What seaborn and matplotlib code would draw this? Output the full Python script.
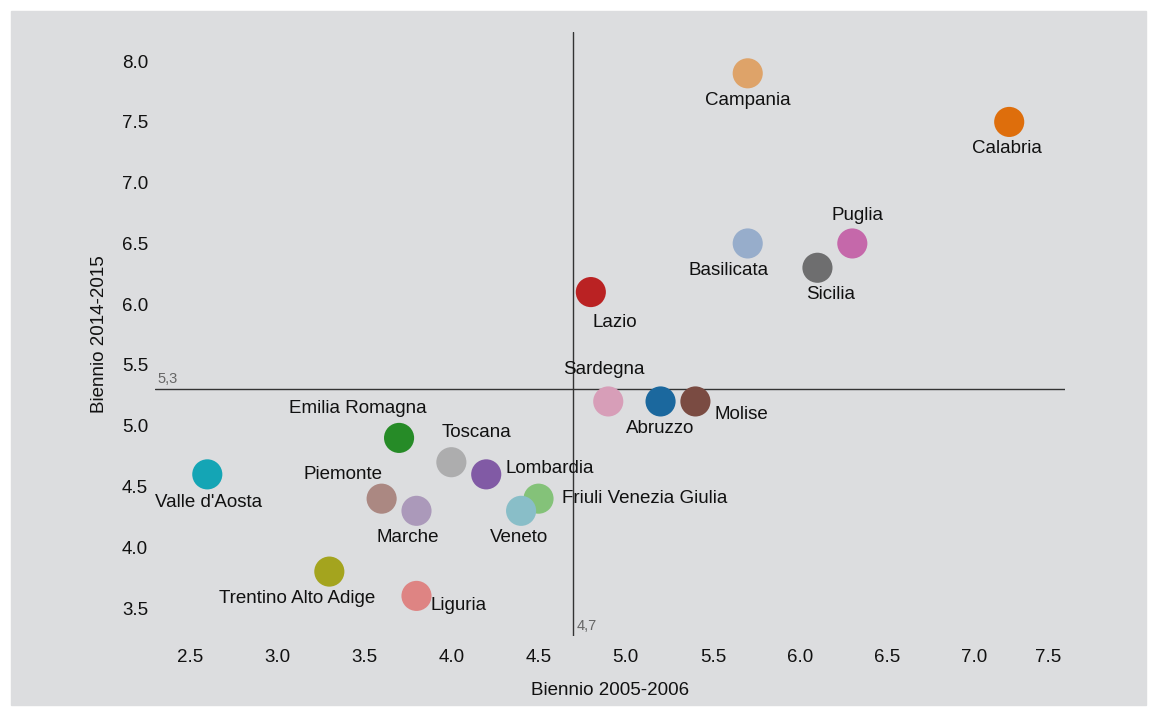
import seaborn as sns
import pandas as pd
import matplotlib.pyplot as plt
from matplotlib.patches import Rectangle

# dati
regioni = ['Abruzzo', 'Basilicata', 'Calabria', 'Campania', 'Emilia Romagna',
           'Friuli Venezia Giulia', 'Lazio', 'Liguria', 'Lombardia', 'Marche',
           'Molise', 'Piemonte', 'Puglia', 'Sardegna', 'Sicilia', 'Toscana',
           'Trentino Alto Adige', 'Umbria', "Valle d'Aosta", 'Veneto']
biennio_2005 = [5.2, 5.7, 7.2, 5.7, 3.7, 4.5, 4.8, 3.8, 4.2, 3.8,
                5.4, 3.6, 6.3, 4.9, 6.1, 4.0, 3.3, None, 2.6, 4.4]
biennio_2014 = [5.2, 6.5, 7.5, 7.9, 4.9, 4.4, 6.1, 3.6, 4.6, 4.3,
                5.2, 4.4, 6.5, 5.2, 6.3, 4.7, 3.8, None, 4.6, 4.3]
media_2005 = 4.7
media_2014 = 5.3

df = pd.DataFrame({'regione': regioni, 'x': biennio_2005, 'y': biennio_2014})

# posizione etichette (offset in pixel, allineamento)
etichette = {
    'Abruzzo': (0, -27, 'center'), 'Basilicata': (-19, -27, 'center'),
    'Calabria': (-2, -27, 'center'), 'Campania': (0, -27, 'center'),
    'Emilia Romagna': (-41, 29, 'center'), 'Friuli Venezia Giulia': (23, 0, 'left'),
    'Lazio': (2, -30, 'left'), 'Liguria': (14, -10, 'left'),
    'Lombardia': (19, 6, 'left'), 'Marche': (-9, -27, 'center'),
    'Molise': (19, -13, 'left'), 'Piemonte': (-39, 24, 'center'),
    'Puglia': (5, 28, 'center'), 'Sardegna': (-4, 32, 'center'),
    'Sicilia': (13, -27, 'center'), 'Toscana': (25, 30, 'center'),
    'Trentino Alto Adige': (-32, -27, 'center'), "Valle d'Aosta": (1, -28, 'center'),
    'Veneto': (-2, -27, 'center'),
}

sfondo = '#dcdddf'
sns.set_style('white')
plt.rcParams['font.family'] = ['Liberation Sans', 'DejaVu Sans']
plt.rcParams['text.color'] = '#111111'
plt.rcParams['axes.labelcolor'] = '#111111'
plt.rcParams['xtick.color'] = '#111111'
plt.rcParams['ytick.color'] = '#111111'

# tab20 scurita come se moltiplicata per lo sfondo
palette = [tuple(c * f for c, f in zip(col, (0.87, 0.87, 0.875)))
           for col in sns.color_palette('tab20', 20)]

fig = plt.figure(figsize=(11.51, 7.09), dpi=100)
fig.patches.append(Rectangle((11 / 1151, 4 / 709), 1135 / 1151, 694 / 709,
                             transform=fig.transFigure, color=sfondo, zorder=-1))
ax = fig.add_axes([155 / 1151, 1 - 636 / 709, 910 / 1151, 604 / 709])
ax.set_facecolor(sfondo)

sns.scatterplot(data=df, x='x', y='y', hue='regione', palette=palette,
                s=470, linewidth=0, legend=False, ax=ax, zorder=3)

for _, r in df.dropna().iterrows():
    dx, dy, ha = etichette[r['regione']]
    ax.annotate(r['regione'], (r['x'], r['y']), xytext=(dx, dy),
                textcoords='offset pixels', ha=ha, va='center', fontsize=13.5)

ax.axvline(media_2005, color='#333333', lw=1, zorder=1)
ax.axhline(media_2014, color='#333333', lw=1, zorder=1)
ax.annotate('5,3', (2.3, media_2014), xytext=(2, 3), textcoords='offset pixels',
            fontsize=10.5, color='#666666', va='bottom')
ax.annotate('4,7', (media_2005, 3.27), xytext=(3, 3), textcoords='offset pixels',
            fontsize=10.5, color='#666666', va='bottom')

ax.set_xlim(2.3, 7.52)
ax.set_ylim(3.27, 8.24)
ax.set_xticks([2.5, 3.0, 3.5, 4.0, 4.5, 5.0, 5.5, 6.0, 6.5, 7.0, 7.5])
ax.set_yticks([3.5, 4.0, 4.5, 5.0, 5.5, 6.0, 6.5, 7.0, 7.5, 8.0])
ax.tick_params(axis='x', length=0, labelsize=13.5, pad=9)
ax.tick_params(axis='y', length=0, labelsize=13.5, pad=5)
ax.get_xticklabels()[-1].set_ha('right')
ax.set_xlabel('Biennio 2005-2006', fontsize=13.5, labelpad=12)
ax.set_ylabel('Biennio 2014-2015', fontsize=13.5, labelpad=10)
sns.despine(ax=ax, left=True, bottom=True)

fig.savefig('out.png', dpi=100, facecolor='white')
